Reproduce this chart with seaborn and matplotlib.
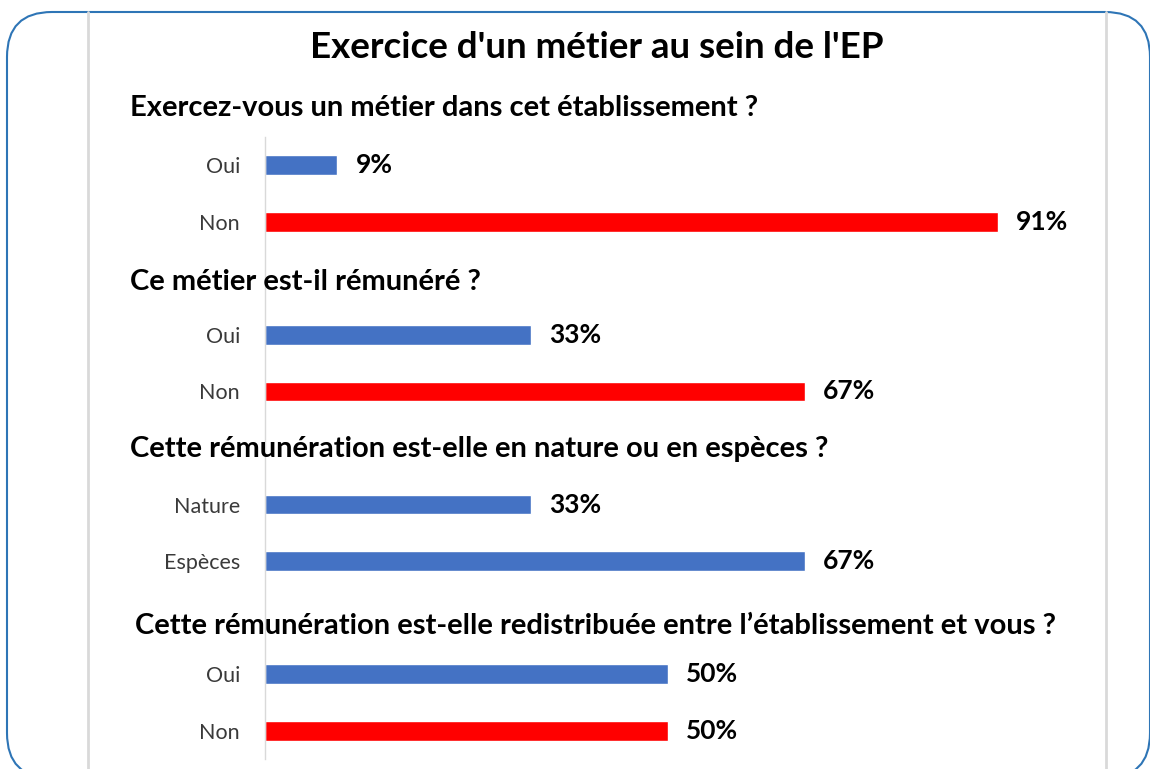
import pandas as pd
import matplotlib.pyplot as plt
import matplotlib.transforms as mtransforms
from matplotlib.patches import FancyBboxPatch
from matplotlib.lines import Line2D
import seaborn as sns

# data
title = "Exercice d'un métier au sein de l'EP"
questions = [
    "Exercez-vous un métier dans cet établissement ?",
    "Ce métier est-il rémunéré ?",
    "Cette rémunération est-elle en nature ou en espèces ?",
    "Cette rémunération est-elle redistribuée entre l\u2019établissement et vous ?",
]
answers = [
    ["Oui", "Non"],
    ["Oui", "Non"],
    ["Nature", "Espèces"],
    ["Oui", "Non"],
]
percents = [
    [9, 91],
    [33, 67],
    [33, 67],
    [50, 50],
]
bar_colors = [
    ["bleu", "rouge"],
    ["bleu", "rouge"],
    ["bleu", "bleu"],
    ["bleu", "rouge"],
]
palette = {"bleu": "#4472C4", "rouge": "#FF0000"}

# build long table, with a heading slot before each question
rows = []
order = []
tick_text = []
for i, q in enumerate(questions):
    order.append(f"h{i}")
    tick_text.append("")
    for a, p, c in zip(answers[i], percents[i], bar_colors[i]):
        key = f"q{i}_{a}"
        order.append(key)
        tick_text.append(a)
        rows.append({"row": key, "pct": p, "couleur": c})
df = pd.DataFrame(rows)

sns.set_theme(style="white")
plt.rcParams["font.family"] = ["Lato", "DejaVu Sans"]

W, H = 1150, 769
fig = plt.figure(figsize=(W / 100, H / 100), dpi=100)
fig.patch.set_facecolor("white")
ax = fig.add_axes([265 / W, 1 - 759 / H, 805.5 / W, (759 - 137) / H])

sns.barplot(data=df, x="pct", y="row", hue="couleur", order=order,
            palette=palette, orient="h", width=0.35, dodge=False,
            legend=False, ax=ax, saturation=1)

ax.set_xlabel("")
ax.set_ylabel("")
ax.set_xticks([])
ax.set_yticks(range(len(order)))
ax.set_yticklabels(tick_text, fontsize=15.5, color="#3A3A3A")
ax.set_xlim(0, 100)
ax.set_ylim(len(order) - 0.5, 0.5)
ax.tick_params(axis="y", length=0, pad=18)
for s in ["top", "right", "bottom"]:
    ax.spines[s].set_visible(False)
ax.spines["left"].set_color("#D9D9D9")
ax.spines["left"].set_linewidth(1)
ax.set_facecolor("none")

for cont in ax.containers:
    ax.bar_label(cont, fmt="{:.0f}%", padding=13, fontsize=19,
                 fontweight="bold", color="black")

# question headings
blend = mtransforms.blended_transform_factory(fig.transFigure, ax.transData)
heading_x = [130, 130, 130, 135]
heading_dy = [-0.02, 0.06, 0.02, 0.15]
for i, q in enumerate(questions):
    ax.text(heading_x[i] / W, order.index(f"h{i}") + heading_dy[i], q,
            transform=blend, ha="left", va="center", fontsize=21,
            fontweight="bold", color="black", clip_on=False)

fig.text(597 / W, 1 - 47 / H, title, ha="center", va="center",
         fontsize=26.5, fontweight="bold", color="black")

# chart frame lines and rounded border
for xp in [88, 1106]:
    fig.add_artist(Line2D([xp / W, xp / W], [0, 1 - 12 / H],
                          transform=fig.transFigure, color="#D9D9D9", lw=2))
border = FancyBboxPatch((7, -9), 1143, 766,
                        boxstyle="round,pad=0,rounding_size=45",
                        transform=mtransforms.IdentityTransform(),
                        fill=False, edgecolor="#2E75B6", lw=1.5)
fig.add_artist(border)

fig.savefig("out.png", dpi=100)
